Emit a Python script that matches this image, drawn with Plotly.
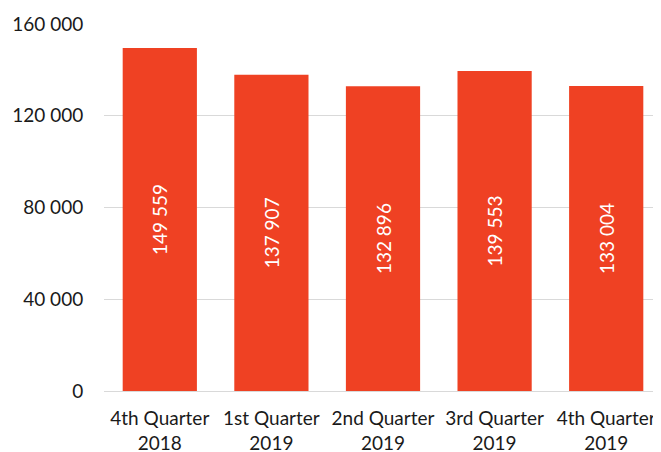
import plotly.graph_objects as go

categories = ["4th Quarter<br>2018", "1st Quarter<br>2019", "2nd Quarter<br>2019",
              "3rd Quarter<br>2019", "4th Quarter<br>2019"]
values = [149559, 137907, 132896, 139553, 133004]
y_ticks = [0, 40000, 80000, 120000, 160000]

fig = go.Figure(go.Bar(
    x=categories, y=values,
    marker=dict(color="#EF4123", line=dict(width=0)),
    texttemplate="%{y:,d}",
    textposition="inside",
    insidetextanchor="middle",
    textangle=-90,
    textfont=dict(color="white", size=19, family="Lato, sans-serif"),
    hoverinfo="skip",
))

fig.update_layout(
    width=661, height=452,
    margin=dict(l=96, r=7, t=16, b=69),
    paper_bgcolor="white", plot_bgcolor="white",
    separators=". ",
    bargap=0.335,
    showlegend=False,
    font=dict(family="Lato, sans-serif", size=19, color="#1a1a1a"),
)
fig.update_yaxes(
    range=[0, 160000], tickvals=y_ticks, tickformat=",d",
    showgrid=True, gridcolor="#D9D9D9", gridwidth=1,
    zeroline=True, zerolinecolor="#D9D9D9", zerolinewidth=1,
    showline=False, ticks="outside", ticklen=16, tickcolor="rgba(0,0,0,0)",
    tickfont=dict(size=19, color="#1a1a1a"),
    automargin=False,
)
fig.update_xaxes(
    showline=False, ticks="outside", ticklen=10, tickcolor="rgba(0,0,0,0)",
    showgrid=False,
    tickfont=dict(size=19, color="#1a1a1a"),
    automargin=False,
)

fig.write_html("out.html")
